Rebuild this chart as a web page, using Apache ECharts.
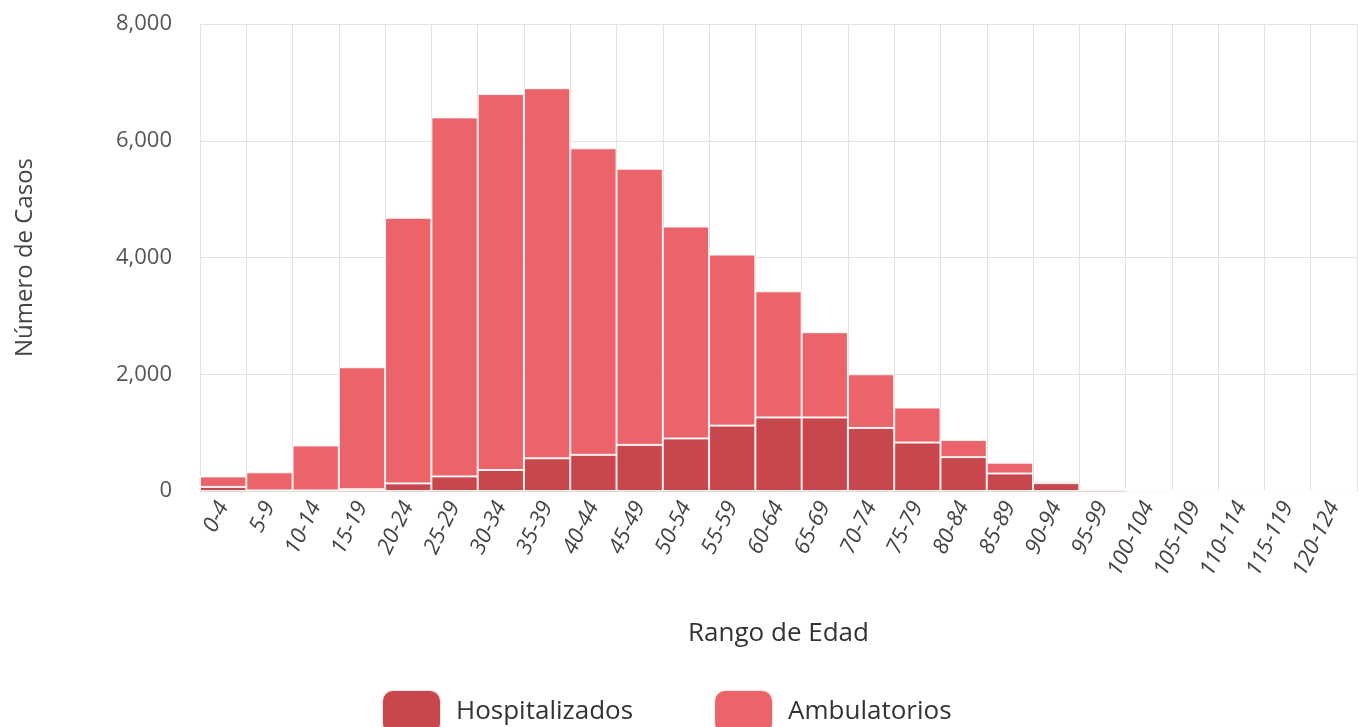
<!DOCTYPE html>
<html>
<head>
<meta charset="utf-8">
<script src="https://cdn.jsdelivr.net/npm/echarts@6/dist/echarts.min.js"></script>
<style>
html,body{margin:0;padding:0;background:#fff;}
#chart{width:1358px;height:727px;}
</style>
</head>
<body>
<div id="chart"></div>
<script>
const categories = ['0-4','5-9','10-14','15-19','20-24','25-29','30-34','35-39','40-44','45-49','50-54','55-59','60-64','65-69','70-74','75-79','80-84','85-89','90-94','95-99','100-104','105-109','110-114','115-119','120-124'];
const hospitalizados = [70,10,10,30,130,250,360,560,620,790,900,1120,1260,1260,1080,830,580,300,135,35,2,0,0,0,0];
const ambulatorios = [180,310,770,2090,4550,6150,6440,6340,5250,4730,3630,2930,2160,1460,920,600,295,185,30,5,1,0,0,0,0];
const yTicks = [0,2000,4000,6000,8000];

const FONT = '"Open Sans", Lato, sans-serif';
const chart = echarts.init(document.getElementById('chart'), null, {renderer:'canvas'});
chart.setOption({
  animation:false,
  textStyle:{fontFamily:FONT},
  grid:{left:200,right:1,top:24,bottom:236,containLabel:false},
  legend:{
    left:376, top:684, padding:5,
    itemWidth:59, itemHeight:44, itemGap:80,
    icon:'roundRect',
    textStyle:{fontFamily:FONT,fontSize:26,color:'#333',padding:[0,0,0,10]},
    data:['Hospitalizados','Ambulatorios']
  },
  xAxis:{
    type:'category',
    data:categories,
    name:'Rango de Edad',
    nameLocation:'middle',
    nameGap:130,
    nameTextStyle:{fontFamily:FONT,fontSize:26,color:'#333'},
    axisLine:{show:true,lineStyle:{color:'#e0d6d6',width:1}},
    axisTick:{show:false},
    splitLine:{show:true,lineStyle:{color:'#e2e2e2',width:1}},
    axisLabel:{rotate:64,margin:12,fontSize:22,color:'#444',fontStyle:'italic',interval:0}
  },
  yAxis:{
    type:'value',
    min:yTicks[0], max:yTicks[yTicks.length-1], interval:2000,
    name:'Número de Casos',
    nameLocation:'middle',
    nameRotate:90,
    nameGap:163,
    nameTextStyle:{fontFamily:FONT,fontSize:24,color:'#444'},
    axisLine:{show:false},
    axisTick:{show:false},
    splitLine:{show:true,lineStyle:{color:'#e2e2e2',width:1}},
    axisLabel:{margin:28,fontSize:22,color:'#555',formatter:function(v){return v.toLocaleString('en-US');}}
  },
  series:[
    {name:'Hospitalizados',type:'bar',stack:'total',data:hospitalizados,barCategoryGap:'0%',
     itemStyle:{color:'#c8474d',borderColor:'rgba(255,255,255,0.85)',borderWidth:1}},
    {name:'Ambulatorios',type:'bar',stack:'total',data:ambulatorios,barCategoryGap:'0%',
     itemStyle:{color:'#eb6469',borderColor:'rgba(255,255,255,0.85)',borderWidth:1}}
  ]
});
</script>
</body>
</html>
